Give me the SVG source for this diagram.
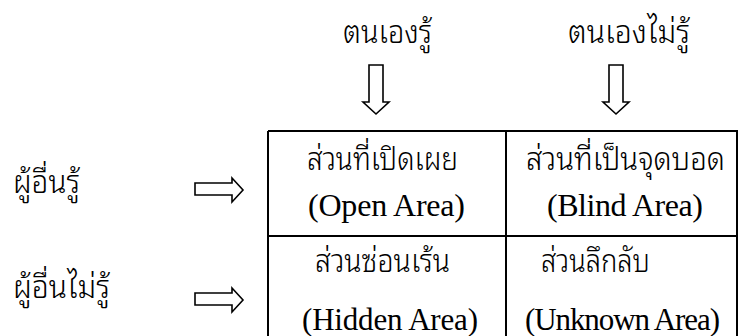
<svg xmlns="http://www.w3.org/2000/svg" width="738" height="336" viewBox="0 0 738 336">
<style>
.th{font-family:"Noto Sans Thai Looped","Loma","Noto Sans Thai",sans-serif;font-size:31px;font-weight:300;fill:#000}
.en{font-family:"Liberation Serif","Times New Roman",serif;font-size:32px;fill:#000}
.en2{font-family:"Liberation Serif","Times New Roman",serif;font-size:31px;fill:#000}
.grid{stroke:#000;stroke-width:2;fill:none}
.arr{fill:#fff;stroke:#000;stroke-width:1.6;stroke-linejoin:miter}
</style>
<rect width="738" height="336" fill="#fff"/>
<g id="label-self-known"><text class="th" x="343" y="43" textLength="89" lengthAdjust="spacingAndGlyphs">ตนเองรู้</text></g>
<g id="label-self-unknown"><text class="th" x="568" y="43" textLength="122" lengthAdjust="spacingAndGlyphs">ตนเองไม่รู้</text></g>
<g id="label-others-known"><text class="th" x="13" y="193" textLength="67" lengthAdjust="spacingAndGlyphs">ผู้อื่นรู้</text></g>
<g id="label-others-unknown"><text class="th" x="13" y="298" textLength="97" lengthAdjust="spacingAndGlyphs">ผู้อื่นไม่รู้</text></g>
<g id="grid"><path class="grid" d="M268 131H738M268 236H738M268 131V336M506 131V336M737 131V336"/></g>
<g id="cell-open"><text class="th" x="307" y="170" textLength="151" lengthAdjust="spacingAndGlyphs">ส่วนที่เปิดเผย</text><text class="en" x="308" y="216" textLength="157">(Open Area)</text></g>
<g id="cell-blind"><text class="th" x="526" y="170" textLength="199" lengthAdjust="spacingAndGlyphs">ส่วนที่เป็นจุดบอด</text><text class="en" x="547" y="216" textLength="156">(Blind Area)</text></g>
<g id="cell-hidden"><text class="th" x="315" y="272" textLength="135" lengthAdjust="spacingAndGlyphs">ส่วนซ่อนเร้น</text><text class="en2" x="302" y="330" textLength="176">(Hidden Area)</text></g>
<g id="cell-unknown"><text class="th" x="541" y="272" textLength="109" lengthAdjust="spacingAndGlyphs">ส่วนลึกลับ</text><text class="en2" x="525" y="330" textLength="195">(Unknown Area)</text></g>
<g id="connectors">
<polygon class="arr" points="369,65 383,65 383,102 389,102 376,114 363,102 369,102"/>
<polygon class="arr" points="609,65 623,65 623,102 629,102 616,114 603,102 609,102"/>
<polygon class="arr" points="195,183 232,183 232,178 243,190 232,202 232,195 195,195"/>
<polygon class="arr" points="195,293 232,293 232,288 243,300 232,312 232,305 195,305"/>
</g>
</svg>
